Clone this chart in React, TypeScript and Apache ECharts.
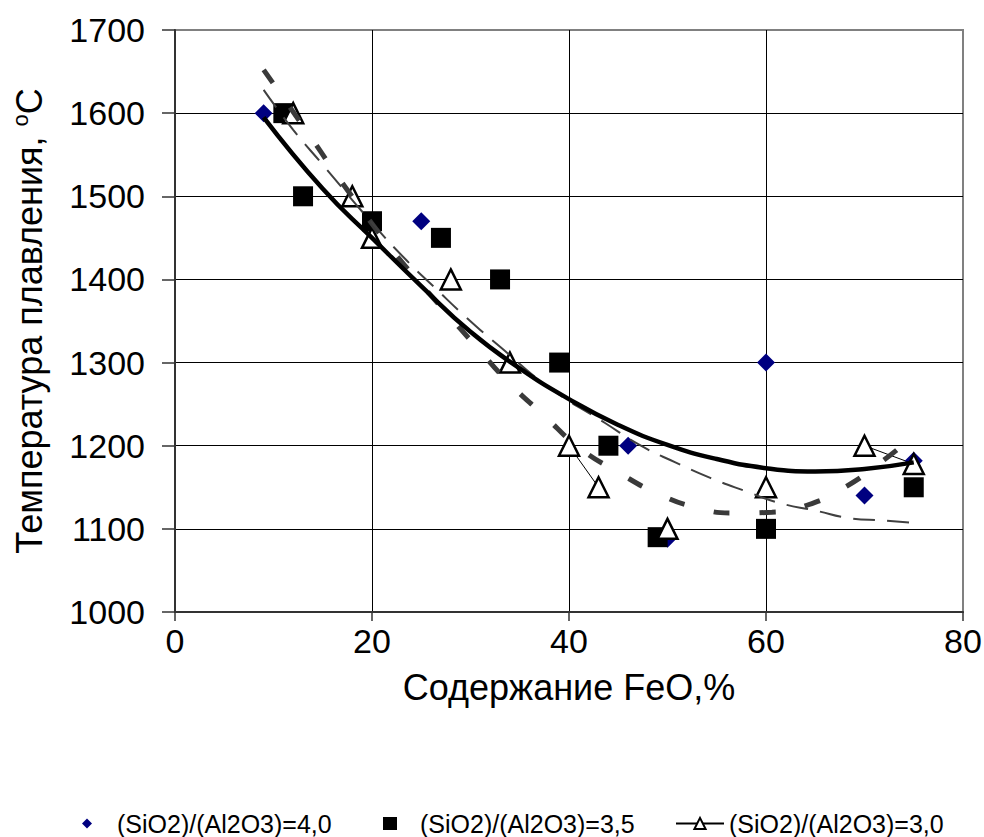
import React, { useEffect, useRef } from "react";
import * as echarts from "echarts";

// ---- data ----
const xTicks = [0, 20, 40, 60, 80];
const yTicks = [1000, 1100, 1200, 1300, 1400, 1500, 1600, 1700];

const seriesNames = [
  "(SiO2)/(Al2O3)=4,0",
  "(SiO2)/(Al2O3)=3,5",
  "(SiO2)/(Al2O3)=3,0",
];

const diamondX = [9, 25, 46, 50, 60, 70, 75];
const diamondY = [1600, 1470, 1200, 1088, 1300, 1140, 1182];

const squareX = [11, 13, 20, 27, 33, 39, 44, 49, 60, 75];
const squareY = [1600, 1500, 1470, 1450, 1400, 1300, 1200, 1090, 1100, 1150];

const triangleX = [12, 18, 20, 28, 34, 40, 43, 50, 60, 70, 75];
const triangleY = [1600, 1500, 1450, 1400, 1300, 1200, 1150, 1100, 1150, 1200, 1178];
// whether point i is joined to point i+1 by the thin line
const triangleJoined = [false, false, false, false, false, true, false, false, false, true];

// trend lines
const trendSolidX = [9, 15, 20, 25, 30, 35, 40, 45, 50, 55, 60, 65, 70, 75];
const trendSolidY = [1595, 1509, 1450, 1392, 1337, 1293, 1256, 1225, 1201, 1184, 1173, 1169, 1172, 1180];

const trendDashX = [9, 12, 15, 20, 23.5, 26.3, 29.6, 33, 38, 43.7, 47.3, 50.8, 54.4, 58, 61.4, 65, 68.4, 72, 75];
const trendDashY = [1628, 1580, 1538, 1468, 1423, 1391, 1354, 1319, 1270, 1227, 1200, 1180, 1161, 1145, 1131, 1122, 1113, 1110, 1107];

const trendHatchX = [9, 14.2, 16.5, 21.8, 24.5, 27.6, 30.6, 33.8, 37.4, 41.1, 45, 48.9, 52.8, 56.7, 60.6, 64.3, 68, 72, 75];
const trendHatchY = [1652, 1564, 1524, 1439, 1401, 1359, 1319, 1277, 1237, 1197, 1168, 1143, 1126, 1119, 1120, 1129, 1150, 1183, 1212];

const FONT = "'Liberation Sans', Arial, Helvetica, sans-serif";

const pairs = (xs: number[], ys: number[]) => xs.map((x, i) => [x, ys[i]]);

function buildTriangleData() {
  const out: any[] = [];
  triangleX.forEach((x, i) => {
    out.push([x, triangleY[i]]);
    if (i < triangleX.length - 1 && !triangleJoined[i]) out.push(["-", "-"]);
  });
  return out;
}

export default function App() {
  const ref = useRef<HTMLDivElement>(null);

  useEffect(() => {
    if (!ref.current) return;
    const chart = echarts.init(ref.current, null, { renderer: "svg" });

    const legendText = (padLeft: number) => ({
      fontFamily: FONT,
      fontSize: 25,
      color: "#000",
      padding: [0, 0, 0, padLeft],
    });

    chart.setOption({
      animation: false,
      backgroundColor: "#fff",
      grid: {
        left: 175,
        right: 21,
        top: 30,
        bottom: 225,
        show: true,
        borderColor: "#808080",
        borderWidth: 2,
        outerBoundsMode: "none",
        containLabel: false,
      },
      legend: [
        {
          data: [seriesNames[0]],
          left: 82,
          top: 811,
          padding: 0,
          itemWidth: 10,
          itemHeight: 10,
          textStyle: legendText(20),
        },
        {
          data: [seriesNames[1]],
          left: 383,
          top: 811,
          padding: 0,
          itemWidth: 14,
          itemHeight: 13,
          textStyle: legendText(18),
        },
        {
          data: [seriesNames[2]],
          left: 675,
          top: 811,
          padding: 0,
          itemWidth: 48,
          itemHeight: 14,
          textStyle: legendText(0),
        },
      ],
      xAxis: {
        type: "value",
        min: xTicks[0],
        max: xTicks[xTicks.length - 1],
        interval: xTicks[1] - xTicks[0],
        name: "Содержание FeO,%",
        nameLocation: "middle",
        nameGap: 57,
        nameTextStyle: { fontFamily: FONT, fontSize: 36, color: "#000" },
        axisLine: { show: true, lineStyle: { color: "#333", width: 2 } },
        axisTick: { show: true, length: 9, inside: false, lineStyle: { color: "#333", width: 1.5 } },
        axisLabel: {
          fontFamily: FONT,
          fontSize: 34,
          color: "#000",
          margin: 12,
          formatter: (v: number) => String(v),
        },
        splitLine: { show: true, showMinLine: false, showMaxLine: false, lineStyle: { color: "#000", width: 1 } },
      },
      yAxis: {
        type: "value",
        min: yTicks[0],
        max: yTicks[yTicks.length - 1],
        interval: yTicks[1] - yTicks[0],
        name: "Температура плавления, {sup|o}C",
        nameLocation: "middle",
        nameGap: 126,
        nameRotate: 90,
        nameTextStyle: {
          fontFamily: FONT,
          fontSize: 36,
          color: "#000",
          rich: {
            sup: { fontFamily: FONT, fontSize: 22, color: "#000", padding: [0, 0, 18, 0] },
          },
        },
        axisLine: { show: true, lineStyle: { color: "#333", width: 2 } },
        axisTick: { show: true, length: 13, inside: false, lineStyle: { color: "#333", width: 1.5 } },
        axisLabel: {
          fontFamily: FONT,
          fontSize: 34,
          color: "#000",
          margin: 30,
          formatter: (v: number) => String(v),
        },
        splitLine: { show: true, showMinLine: false, showMaxLine: false, lineStyle: { color: "#000", width: 1 } },
      },
      series: [
        {
          name: seriesNames[0],
          type: "scatter",
          symbol: "diamond",
          symbolSize: 18,
          itemStyle: { color: "#000080", opacity: 1 },
          data: pairs(diamondX, diamondY),
          z: 2,
        },
        {
          name: seriesNames[1],
          type: "scatter",
          symbol: "rect",
          symbolSize: 20,
          itemStyle: { color: "#000", opacity: 1 },
          data: pairs(squareX, squareY),
          z: 2,
        },
        {
          name: seriesNames[2],
          type: "line",
          symbol: "triangle",
          symbolSize: 20,
          showAllSymbol: true,
          connectNulls: false,
          lineStyle: { color: "#000", width: 1 },
          itemStyle: { color: "#fff", borderColor: "#000", borderWidth: 2.5, opacity: 1 },
          data: buildTriangleData(),
          z: 2,
        },
        {
          name: "trend-hatch",
          type: "line",
          symbol: "none",
          smooth: true,
          silent: true,
          lineStyle: { color: "#3a3a3a", width: 5, type: [16, 30] },
          data: pairs(trendHatchX, trendHatchY),
          z: 3,
        },
        {
          name: "trend-dash",
          type: "line",
          symbol: "none",
          smooth: true,
          silent: true,
          lineStyle: { color: "#404040", width: 2, type: [22, 12] },
          data: pairs(trendDashX, trendDashY),
          z: 3,
        },
        {
          name: "trend-solid",
          type: "line",
          symbol: "none",
          smooth: true,
          silent: true,
          lineStyle: { color: "#000", width: 4.5 },
          data: pairs(trendSolidX, trendSolidY),
          z: 4,
        },
      ],
    });

    return () => chart.dispose();
  }, []);

  return (
    <div
      ref={ref}
      style={{ position: "fixed", left: 0, top: 0, width: 984, height: 837, background: "#fff" }}
    />
  );
}
